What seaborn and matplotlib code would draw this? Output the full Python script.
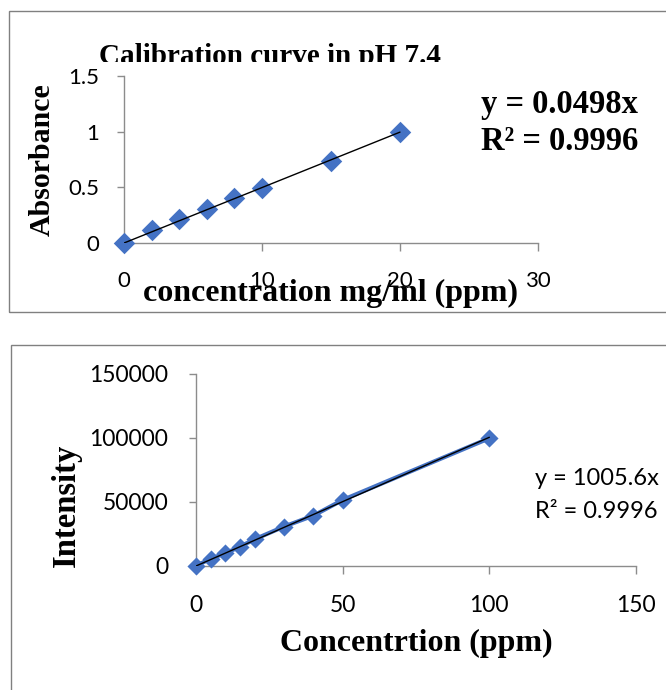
import matplotlib
matplotlib.use("Agg")
import matplotlib.pyplot as plt
import seaborn as sns
import numpy as np
import pandas as pd
from matplotlib.patches import Rectangle
from matplotlib.transforms import Bbox

# ---- data ----
top_conc = [0, 2, 4, 6, 8, 10, 15, 20]
top_abs = [0, 0.115, 0.215, 0.305, 0.40, 0.49, 0.74, 0.995]
top_slope = 0.0498
top_title = "Calibration curve in pH 7.4"
top_eq = ["y = 0.0498x", "R² = 0.9996"]
top_xticks = [0, 10, 20, 30]
top_yticks = [0, 0.5, 1, 1.5]
top_yticklabels = ["0", "0.5", "1", "1.5"]

bot_conc = [0, 5, 10, 15, 20, 30, 40, 50, 100]
bot_int = [0, 5800, 9900, 15100, 20900, 30800, 39300, 51600, 99800]
bot_slope = 1005.6
bot_eq = ["y = 1005.6x", "R² = 0.9996"]
bot_xticks = [0, 50, 100, 150]
bot_yticks = [0, 50000, 100000, 150000]

sns.set_theme(style="white")
plt.rcParams['font.family'] = ['Lato', 'DejaVu Sans']

W, H = 666, 690
fig = plt.figure(figsize=(W / 100, H / 100), dpi=100)
fig.patch.set_facecolor("white")


def fx(x):
    return x / W


def fy(y):
    return 1 - y / H


BLUE = "#4472C4"
GREY = "#8c8c8c"
SERIF = "Liberation Serif"

# panel borders
fig.patches.append(Rectangle((fx(9), fy(312)), fx(700), (312 - 11) / H, transform=fig.transFigure,
                             fill=False, edgecolor="#808080", lw=1.0))
fig.patches.append(Rectangle((fx(11), fy(720)), fx(700), (720 - 345) / H, transform=fig.transFigure,
                             fill=False, edgecolor="#808080", lw=1.0))

# ---------- top axes ----------
ax1 = fig.add_axes([fx(124), fy(243), (538 - 124) / W, (243 - 76) / H])
df1 = pd.DataFrame({"conc": top_conc, "abs": top_abs})
xfit1 = np.array([0, max(top_conc)])
ax1.plot(xfit1, top_slope * xfit1, color="black", lw=1.0, zorder=4)
sns.scatterplot(data=df1, x="conc", y="abs", marker="D", s=120, color=BLUE,
                edgecolor=BLUE, linewidth=0, ax=ax1, zorder=3, clip_on=False)
ax1.set_xlim(0, 30)
ax1.set_ylim(0, 1.5)
ax1.set_xticks(top_xticks)
ax1.set_xticklabels([str(t) for t in top_xticks])
ax1.set_yticks(top_yticks)
ax1.set_yticklabels(top_yticklabels)
ax1.tick_params(axis="x", direction="out", length=6, width=1, color=GREY, pad=14, labelsize=16, labelcolor="black")
ax1.tick_params(axis="y", direction="out", length=5, width=1, color=GREY, pad=13, labelsize=16, labelcolor="black")
ax1.tick_params(bottom=True, left=True)
for s in ["top", "right"]:
    ax1.spines[s].set_visible(False)
for s in ["left", "bottom"]:
    ax1.spines[s].set_color(GREY)
    ax1.spines[s].set_linewidth(1.0)
ax1.set_xlabel("concentration mg/ml (ppm)", family=SERIF, weight="bold", fontsize=23, color="black")
ax1.xaxis.set_label_coords(0.498, -0.30)
ax1.xaxis.label.set_va("center")
ax1.set_ylabel("Absorbance", family=SERIF, weight="bold", fontsize=21.5, color="black")
ax1.yaxis.set_label_coords((42 - 124) / 414, 0.5)
ax1.yaxis.label.set_va("center")
ax1.set_facecolor("none")

t = fig.text(fx(270), fy(64), top_title, family=SERIF, weight="bold", fontsize=21,
             ha="center", va="baseline", color="black")
t.set_clip_box(Bbox.from_extents(0, (H - 62), W, H))
t.set_clip_on(True)

for line, base in zip(top_eq, [113, 150]):
    fig.text(fx(481), fy(base), line, family=SERIF, weight="bold", fontsize=23.5,
             ha="left", va="baseline", color="black")

# ---------- bottom axes ----------
ax2 = fig.add_axes([fx(196), fy(566), (636 - 196) / W, (566 - 374) / H])
df2 = pd.DataFrame({"conc": bot_conc, "intensity": bot_int})
sns.lineplot(data=df2, x="conc", y="intensity", color=BLUE, lw=3, ax=ax2, zorder=2)
sns.scatterplot(data=df2, x="conc", y="intensity", marker="D", s=85, color=BLUE,
                edgecolor=BLUE, linewidth=0, ax=ax2, zorder=3, clip_on=False)
xfit2 = np.array([0, max(bot_conc)])
ax2.plot(xfit2, bot_slope * xfit2, color="black", lw=1.0, zorder=4)
ax2.set_xlim(0, 150)
ax2.set_ylim(0, 150000)
ax2.set_xticks(bot_xticks)
ax2.set_xticklabels([str(t) for t in bot_xticks])
ax2.set_yticks(bot_yticks)
ax2.set_yticklabels([str(t) for t in bot_yticks])
ax2.tick_params(axis="x", direction="out", length=6, width=1, color=GREY, pad=15, labelsize=16.5, labelcolor="black")
ax2.tick_params(axis="y", direction="out", length=5, width=1, color=GREY, pad=15, labelsize=16.5, labelcolor="black")
ax2.tick_params(bottom=True, left=True)
for s in ["top", "right"]:
    ax2.spines[s].set_visible(False)
for s in ["left", "bottom"]:
    ax2.spines[s].set_color(GREY)
    ax2.spines[s].set_linewidth(1.0)
ax2.set_xlabel("Concentrtion (ppm)", family=SERIF, weight="bold", fontsize=23, color="black")
ax2.xaxis.set_label_coords((416 - 196) / 440, -(643 - 566) / 192)
ax2.xaxis.label.set_va("center")
ax2.set_ylabel("Intensity", family=SERIF, weight="bold", fontsize=23.5, color="black")
ax2.yaxis.set_label_coords((66 - 196) / 440, (566 - 505) / 192)
ax2.yaxis.label.set_va("center")
ax2.set_facecolor("none")

for line, base in zip(bot_eq, [485, 518]):
    fig.text(fx(535), fy(base), line, ha="left", va="baseline", fontsize=17, color="black")

fig.savefig("out.png", dpi=100)
